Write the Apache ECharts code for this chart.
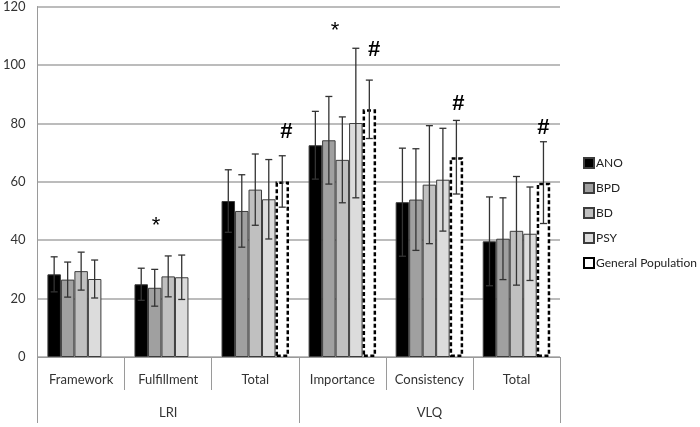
<!DOCTYPE html>
<html>
<head>
<meta charset="utf-8">
<script src="https://cdn.jsdelivr.net/npm/echarts@6/dist/echarts.min.js"></script>
<style>
html,body{margin:0;padding:0;background:#fff;}
#chart{width:700px;height:427px;}
</style>
</head>
<body>
<div id="chart"></div>
<script>
// ---- data ----
var categories = ['Framework', 'Fulfillment', 'Total', 'Importance', 'Consistency', 'Total'];
var groups = ['LRI', 'VLQ'];
var seriesNames = ['ANO', 'BPD', 'BD', 'PSY', 'General Population'];
var meanANO = [28.3, 24.9, 53.4, 72.5, 53.0, 39.6];
var meanBPD = [26.5, 23.7, 50.0, 74.2, 53.9, 40.5];
var meanBD  = [29.4, 27.6, 57.3, 67.5, 59.0, 43.2];
var meanPSY = [26.7, 27.3, 54.0, 80.1, 60.7, 42.2];
var meanGP  = [null, null, 60.1, 84.8, 68.4, 59.7];
var sdANO = [6.0, 5.5, 10.7, 11.6, 18.5, 15.2];
var sdBPD = [6.0, 6.3, 12.4, 15.0, 17.4, 14.0];
var sdBD  = [6.5, 7.0, 12.2, 14.7, 20.2, 18.6];
var sdPSY = [6.5, 7.6, 13.6, 25.6, 17.6, 16.0];
var sdGP  = [null, null, 8.8, 10.0, 12.6, 14.0];
var yTicks = [0, 20, 40, 60, 80, 100, 120];
// significance markers: text, category index, bar slot (0..4), value
var annText  = ['*', '*', '#', '#', '#', '#'];
var annCat   = [1, 3, 2, 3, 4, 5];
var annSlot  = [1.1, 1.45, 4.3, 4.35, 4.15, 4.0];
var annValue = [45, 111.6, 77, 105, 86.7, 78.4];

// ---- build ----
var means = [meanANO, meanBPD, meanBD, meanPSY, meanGP];
var sds = [sdANO, sdBPD, sdBD, sdPSY, sdGP];
var fills = ['#000000', '#a0a0a0', '#c0c0c0', '#dcdcdc', '#ffffff'];
var CAT_GAP = 0.225;
var N = seriesNames.length;

function slotX(api, cat, slot) {
  var band = api.size([1, 0])[0];
  var c = api.coord([cat, 0])[0];
  var bw = band * (1 - CAT_GAP) / N;
  return c - band * (1 - CAT_GAP) / 2 + (slot + 0.5) * bw;
}

var series = [];
means.forEach(function (m, i) {
  var isGP = i === 4;
  series.push({
    name: seriesNames[i],
    type: 'bar',
    xAxisIndex: 0,
    barGap: '0%',
    barCategoryGap: (CAT_GAP * 100) + '%',
    data: m.map(function (v) { return v == null ? '-' : v; }),
    itemStyle: isGP ? {
      color: '#ffffff', borderColor: '#000000', borderWidth: 2.5, borderType: [4, 2.5]
    } : {
      color: fills[i], borderColor: '#3c3c3c', borderWidth: 1
    },
    emphasis: { disabled: true },
    z: 2
  });
});

var errData = [];
means.forEach(function (m, i) {
  m.forEach(function (v, c) {
    if (v != null) errData.push([c, v - sds[i][c], v + sds[i][c], i]);
  });
});
series.push({
  type: 'custom',
  xAxisIndex: 0,
  data: errData,
  z: 5,
  silent: true,
  renderItem: function (params, api) {
    var cat = api.value(0);
    var x = slotX(api, cat, api.value(3));
    var yl = api.coord([cat, api.value(1)])[1];
    var yh = api.coord([cat, api.value(2)])[1];
    var cw = 3.5;
    var st = { stroke: '#333333', lineWidth: 1.3 };
    return { type: 'group', children: [
      { type: 'line', shape: { x1: x, y1: yl, x2: x, y2: yh }, style: st },
      { type: 'line', shape: { x1: x - cw, y1: yh, x2: x + cw, y2: yh }, style: st },
      { type: 'line', shape: { x1: x - cw, y1: yl, x2: x + cw, y2: yl }, style: st }
    ] };
  }
});

var annData = annText.map(function (t, k) { return [annCat[k], annValue[k], annSlot[k], k]; });
series.push({
  type: 'custom',
  xAxisIndex: 0,
  data: annData,
  z: 6,
  silent: true,
  renderItem: function (params, api) {
    var cat = api.value(0);
    var x = slotX(api, cat, api.value(2));
    var y = api.coord([cat, api.value(1)])[1];
    var t = annText[api.value(3)];
    return { type: 'text', style: {
      x: x, y: y, text: t, align: 'center', verticalAlign: 'middle',
      font: (t === '#' ? 'bold 22px ' : '22px ') + '"Liberation Sans", Arial, sans-serif', fill: '#000'
    } };
  }
});

var FONT = 'Lato, "Noto Sans", sans-serif';
var option = {
  animation: false,
  backgroundColor: '#ffffff',
  grid: { left: 34, right: 140, top: 6, bottom: 70, containLabel: false },
  legend: {
    orient: 'vertical', left: 578, top: 151,
    itemWidth: 10, itemHeight: 10, itemGap: 11,
    icon: 'rect',
    data: seriesNames,
    selectedMode: false,
    textStyle: { fontFamily: FONT, fontSize: 12, color: '#222', padding: [0, 0, 0, -3], lineHeight: 14 }
  },
  xAxis: [{
    type: 'category', data: categories, position: 'bottom',
    axisLine: { lineStyle: { color: '#9a9a9a', width: 1 } },
    axisTick: { show: true, interval: 0, length: 33, lineStyle: { color: '#9a9a9a' } },
    axisLabel: { interval: 0, margin: 16, fontFamily: FONT, fontSize: 13, color: '#333' },
    splitLine: { show: false }
  }, {
    type: 'category', data: groups, position: 'bottom',
    axisLine: { show: false },
    axisTick: { show: true, interval: 0, length: 66, lineStyle: { color: '#9a9a9a' } },
    axisLabel: { interval: 0, margin: 49, fontFamily: FONT, fontSize: 13, color: '#333' },
    splitLine: { show: false }
  }],
  yAxis: {
    type: 'value', min: yTicks[0], max: yTicks[yTicks.length - 1], interval: yTicks[1] - yTicks[0],
    axisLine: { show: true, lineStyle: { color: '#9a9a9a' } },
    axisTick: { show: false },
    axisLabel: { margin: 12, fontFamily: FONT, fontSize: 13, color: '#333' },
    splitLine: { lineStyle: { color: '#a6a6a6', width: 1.5 } }
  },
  series: series
};
var chart = echarts.init(document.getElementById('chart'), null, { renderer: 'canvas' });
chart.setOption(option);
</script>
</body>
</html>
